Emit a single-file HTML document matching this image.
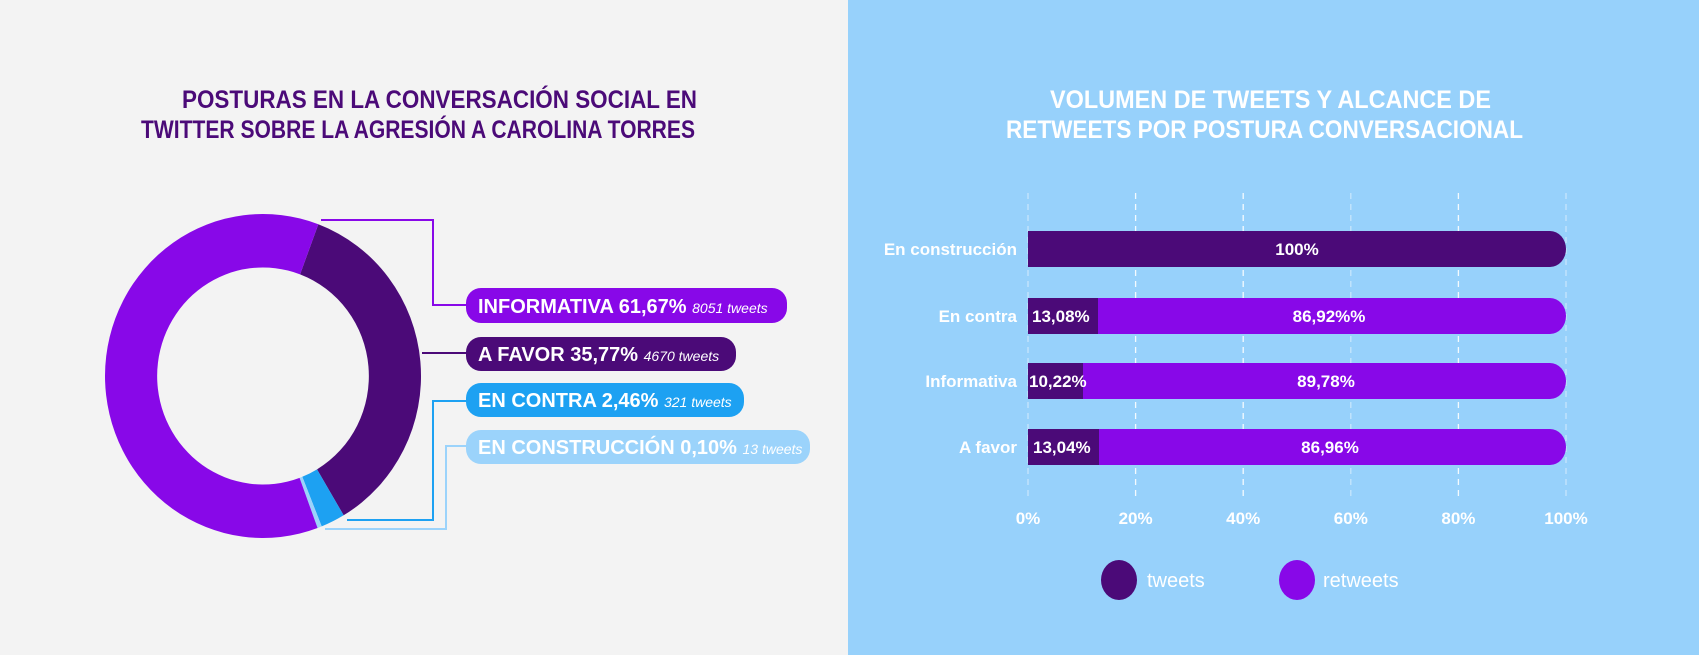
<!DOCTYPE html>
<html><head><meta charset="utf-8"><style>
body{margin:0;width:1699px;height:655px;overflow:hidden;background:#f3f3f3;font-family:"Liberation Sans",sans-serif;}
</style></head><body>
<svg width="1699" height="655" xmlns="http://www.w3.org/2000/svg" style="position:absolute;left:0;top:0" font-family="Liberation Sans, sans-serif">
<rect x="0" y="0" width="848" height="655" fill="#f3f3f3"/>
<rect x="848" y="0" width="851" height="655" fill="#97d1fb"/>
<g font-weight="bold" font-size="25" lengthAdjust="spacingAndGlyphs">
<text x="182" y="108" fill="#4b0a78" textLength="515" lengthAdjust="spacingAndGlyphs">POSTURAS EN LA CONVERSACIÓN SOCIAL EN</text>
<text x="141" y="138" fill="#4b0a78" textLength="554" lengthAdjust="spacingAndGlyphs">TWITTER SOBRE LA AGRESIÓN A CAROLINA TORRES</text>
<text x="1050" y="108" fill="#fff" textLength="441" lengthAdjust="spacingAndGlyphs">VOLUMEN DE TWEETS Y ALCANCE DE</text>
<text x="1006" y="138" fill="#fff" textLength="517" lengthAdjust="spacingAndGlyphs">RETWEETS POR POSTURA CONVERSACIONAL</text>
</g>
<!-- donut -->
<g transform="translate(263,376) scale(158,162)">
<path d="M0.3502,-0.9367 A1,1 0 0 1 0.5105,0.8599 L0.3420,0.5761 A0.67,0.67 0 0 0 0.2346,-0.6276 Z" fill="#4b0a78"/>
<path d="M0.5105,0.8599 A1,1 0 0 1 0.3714,0.9285 L0.2488,0.6221 A0.67,0.67 0 0 0 0.3420,0.5761 Z" fill="#1da1f2"/>
<path d="M0.3714,0.9285 A1,1 0 0 1 0.3453,0.9385 L0.2314,0.6288 A0.67,0.67 0 0 0 0.2488,0.6221 Z" fill="#9bd3fb"/>
<path d="M0.3453,0.9385 A1,1 0 1 1 0.3502,-0.9367 L0.2346,-0.6276 A0.67,0.67 0 1 0 0.2314,0.6288 Z" fill="#8808e8"/>
</g>
<!-- connectors -->
<g fill="none" stroke-width="2">
<polyline points="321,220 433,220 433,305 466,305" stroke="#8808e8"/>
<polyline points="422,353 466,353" stroke="#4b0a78"/>
<polyline points="466,401 433,401 433,520 347,520" stroke="#1da1f2"/>
<polyline points="466,446 446,446 446,529 325,529" stroke="#9bd3fb"/>
</g>
<!-- pills -->
<g font-weight="bold" font-size="20" fill="#fff">
<rect x="466" y="288" width="321" height="35" rx="15" fill="#8808e8"/>
<text x="478" y="313">INFORMATIVA 61,67% <tspan font-size="14" font-style="italic" font-weight="normal">8051 tweets</tspan></text>
<rect x="466" y="337" width="270" height="34" rx="15" fill="#4b0a78"/>
<text x="478" y="361">A FAVOR 35,77% <tspan font-size="14" font-style="italic" font-weight="normal">4670 tweets</tspan></text>
<rect x="466" y="383" width="278" height="34" rx="15" fill="#1da1f2"/>
<text x="478" y="407">EN CONTRA 2,46% <tspan font-size="14" font-style="italic" font-weight="normal">321 tweets</tspan></text>
<rect x="466" y="430" width="344" height="34" rx="15" fill="#9bd3fb"/>
<text x="478" y="454">EN CONSTRUCCIÓN 0,10% <tspan font-size="14" font-style="italic" font-weight="normal">13 tweets</tspan></text>
</g>
<!-- grid -->
<g stroke="#fff" stroke-width="1.3" stroke-dasharray="6,5" opacity="0.9">
<line x1="1028" y1="193" x2="1028" y2="496" opacity="0.5"/>
<line x1="1135.6" y1="193" x2="1135.6" y2="496"/>
<line x1="1243.2" y1="193" x2="1243.2" y2="496"/>
<line x1="1350.8" y1="193" x2="1350.8" y2="496" opacity="0.5"/>
<line x1="1458.4" y1="193" x2="1458.4" y2="496"/>
<line x1="1566" y1="193" x2="1566" y2="496" opacity="0.5"/>
</g>
<!-- bars -->
<g font-weight="bold" font-size="17" fill="#fff">
<path d="M1028,231 H1550 a16,18 0 0 1 0,36 H1028 Z" fill="#4b0a78"/>
<text x="1297" y="255" text-anchor="middle">100%</text>
<path d="M1028,298 H1550 a16,18 0 0 1 0,36 H1028 Z" fill="#8808e8"/>
<rect x="1028" y="298" width="70" height="36" fill="#4b0a78"/>
<text x="1032" y="322">13,08%</text><text x="1329" y="322" text-anchor="middle">86,92%%</text>
<path d="M1028,363 H1550 a16,18 0 0 1 0,36 H1028 Z" fill="#8808e8"/>
<rect x="1028" y="363" width="55" height="36" fill="#4b0a78"/>
<text x="1029" y="387">10,22%</text><text x="1326" y="387" text-anchor="middle">89,78%</text>
<path d="M1028,429 H1550 a16,18 0 0 1 0,36 H1028 Z" fill="#8808e8"/>
<rect x="1028" y="429" width="71" height="36" fill="#4b0a78"/>
<text x="1033" y="453">13,04%</text><text x="1330" y="453" text-anchor="middle">86,96%</text>
<g text-anchor="end">
<text x="1017" y="255">En construcción</text>
<text x="1017" y="322">En contra</text>
<text x="1017" y="387">Informativa</text>
<text x="1017" y="453">A favor</text>
</g>
<g text-anchor="middle">
<text x="1028" y="524">0%</text><text x="1135.6" y="524">20%</text><text x="1243.2" y="524">40%</text>
<text x="1350.8" y="524">60%</text><text x="1458.4" y="524">80%</text><text x="1566" y="524">100%</text>
</g>
</g>
<!-- legend -->
<ellipse cx="1119" cy="580" rx="18" ry="20" fill="#4b0a78"/>
<ellipse cx="1297" cy="580" rx="18" ry="20" fill="#8808e8"/>
<text x="1147" y="587" font-size="20" fill="#fff">tweets</text>
<text x="1323" y="587" font-size="20" fill="#fff">retweets</text>
</svg>
</body></html>
